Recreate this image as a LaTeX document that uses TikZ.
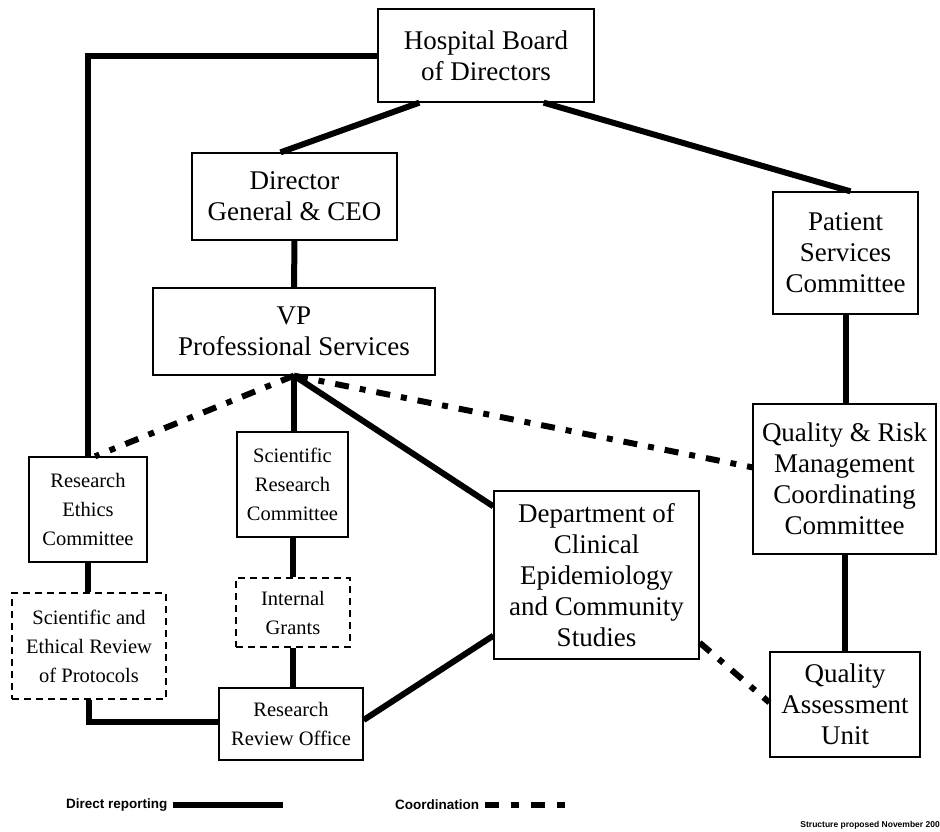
\documentclass[tikz,border=0pt]{standalone}
\usepackage{fontspec}
\setmainfont{Liberation Serif}
\newfontfamily\legendfont{Liberation Sans}
\begin{document}
\begin{tikzpicture}[x=1pt,y=-1pt,
    bigbox/.style={draw,line width=1.3pt,align=center,inner sep=0pt,
        font=\fontsize{27}{31}\selectfont},
    smallbox/.style={draw,line width=1.3pt,align=center,inner sep=0pt,
        font=\fontsize{20.5}{29}\selectfont},
    tentative/.style={smallbox,dash pattern=on 7pt off 5pt},
    report/.style={line width=6pt},
    coord/.style={line width=6pt,dash pattern=on 14pt off 11pt on 6pt off 11pt},
    legendcoord/.style={line width=6pt,dash pattern=on 14pt off 12pt on 8pt off 12pt},
    legend/.style={inner sep=0pt,font=\legendfont\bfseries\fontsize{13.5}{15}\selectfont}]
    \path[use as bounding box,fill=white] (0,0) rectangle (940,831);

    % top of the structure
    \node[bigbox,minimum width=216pt,minimum height=93pt] (board) at (486,55.5)
        {Hospital Board\\of Directors};
    \node[bigbox,minimum width=205pt,minimum height=87pt] (dg) at (294.5,196.5)
        {Director\\General \& CEO};
    \node[bigbox,minimum width=145pt,minimum height=122pt] (psc) at (845.5,253)
        {Patient\\Services\\Committee};
    \node[bigbox,minimum width=282pt,minimum height=87pt] (vp) at (294,331.5)
        {VP\\Professional Services};

    % committees and offices
    \node[smallbox,minimum width=118pt,minimum height=105pt] (rec) at (88,509.5)
        {Research\\Ethics\\Committee};
    \node[smallbox,minimum width=111pt,minimum height=105pt] (src) at (292.5,484.5)
        {Scientific\\Research\\Committee};
    \node[tentative,minimum width=154pt,minimum height=106pt] (serp) at (89,646)
        {Scientific and\\Ethical Review\\of Protocols};
    \node[tentative,minimum width=114pt,minimum height=69pt] (ig) at (293,612.5)
        {Internal\\Grants};
    \node[smallbox,minimum width=144pt,minimum height=72pt] (rro) at (291,724)
        {Research\\Review Office};
    \node[bigbox,minimum width=205pt,minimum height=168pt] (dept) at (596.5,575)
        {Department of\\Clinical\\Epidemiology\\and Community\\Studies};
    \node[bigbox,minimum width=183pt,minimum height=150pt] (qrm) at (844.5,479)
        {Quality \& Risk\\Management\\Coordinating\\Committee};
    \node[bigbox,minimum width=150pt,minimum height=105pt] (qau) at (845,704.5)
        {Quality\\Assessment\\Unit};

    % direct reporting
    \draw[report] ([xshift=42pt]board.south west) -- ([xshift=-14pt]dg.north);
    \draw[report] ([xshift=-51pt]board.south east) -- ([xshift=5pt]psc.north);
    \draw[report] (board.west) -| (rec.north);
    \draw[report] (dg.south) -- (vp.north);
    \draw[report] (vp.south) -- (vp.south |- src.north);
    \draw[report] (vp.south) -- ([yshift=-16pt]dept.north west);
    \draw[report] (psc.south) -- (psc.south |- qrm.north);
    \draw[report] (qrm.south) -- (qrm.south |- qau.north);
    \draw[report] (rec.south) -- (rec.south |- serp.north);
    \draw[report] (src.south) -- (src.south |- ig.north);
    \draw[report] (ig.south) -- (ig.south |- rro.north);
    \draw[report] (serp.south) |- ([yshift=2pt]rro.west);
    \draw[report] ([yshift=4pt]rro.east) -- ([yshift=24pt]dept.south west);

    % coordination
    \draw[coord] (vp.south) -- ([xshift=7pt]rec.north);
    \draw[coord] (vp.south) -- ([yshift=-64pt]qrm.north west);
    \draw[coord] ([yshift=17pt]dept.south east) -- ([yshift=2pt]qau.west);

    % legend
    \node[legend,anchor=west] (direct) at (66,805) {Direct reporting};
    \coordinate (directend) at (283,805);
    \draw[report] ([xshift=5pt]direct.east) -- (direct.east -| directend);
    \node[legend,anchor=west] (coordination) at (395,805) {Coordination};
    \coordinate (coordend) at (568,805);
    \draw[legendcoord] ([xshift=6pt]coordination.east) -- (coordination.east -| coordend);
    \node[inner sep=0pt,anchor=east,font=\legendfont\bfseries\fontsize{8.5}{10}\selectfont]
        (proposed) at (940,825) {Structure proposed November 200};
\end{tikzpicture}
\end{document}
